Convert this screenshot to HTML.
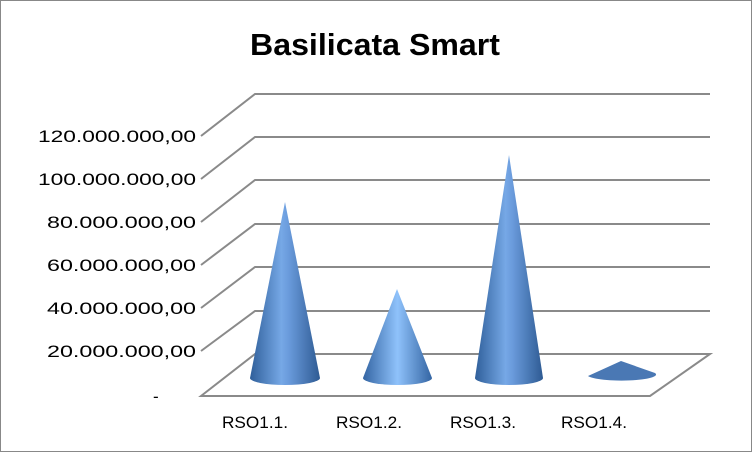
<!DOCTYPE html>
<html><head><style>
body{margin:0;background:#fff}
svg{display:block}
text{font-family:"Liberation Sans",sans-serif}
</style></head><body>
<svg width="752" height="452" viewBox="0 0 752 452">
<defs>
<linearGradient id="g" x1="0" x2="1" y1="0" y2="0">
<stop offset="0" stop-color="#2f5f9a"/>
<stop offset="0.45" stop-color="#76a8e6"/>
<stop offset="0.55" stop-color="#6a9bdc"/>
<stop offset="1" stop-color="#2e5b93"/>
</linearGradient>
<linearGradient id="g2" x1="0" x2="1" y1="0" y2="0">
<stop offset="0" stop-color="#3465a3"/>
<stop offset="0.5" stop-color="#8fc2fb"/>
<stop offset="1" stop-color="#3465a3"/>
</linearGradient>
</defs>
<rect x="0.5" y="0.5" width="751" height="451" fill="#fff" stroke="#888"/>
<text x="250" y="55" font-size="31" font-weight="bold" textLength="250" lengthAdjust="spacingAndGlyphs">Basilicata Smart</text>
<g stroke="#8a8a8a" stroke-width="2" fill="none">
<path d="M201 136L255 94H710"/>
<path d="M201 179L255 137H710"/>
<path d="M201 222L255 180H710"/>
<path d="M201 265L255 224H710"/>
<path d="M201 308L255 267H710"/>
<path d="M201 351L255 311H710"/>
<path d="M201 396L255 354H710L650 396Z"/>
</g>
<g font-size="17" fill="#000">
<text x="38" y="142" textLength="158" lengthAdjust="spacingAndGlyphs">120.000.000,00</text>
<text x="38" y="185" textLength="158" lengthAdjust="spacingAndGlyphs">100.000.000,00</text>
<text x="47" y="228" textLength="149" lengthAdjust="spacingAndGlyphs">80.000.000,00</text>
<text x="47" y="271" textLength="149" lengthAdjust="spacingAndGlyphs">60.000.000,00</text>
<text x="47" y="314" textLength="149" lengthAdjust="spacingAndGlyphs">40.000.000,00</text>
<text x="47" y="357" textLength="149" lengthAdjust="spacingAndGlyphs">20.000.000,00</text>
<text x="153" y="402">-</text>
</g>
<g>
<path d="M250 378L285 202L320 378A35 7 0 0 1 250 378Z" fill="url(#g)"/>
<path d="M363 378L397 289L432 378A34.5 7 0 0 1 363 378Z" fill="url(#g2)"/>
<path d="M475 378L509 155L543 378A34 7 0 0 1 475 378Z" fill="url(#g)"/>
<path d="M588 376L621 361L655 373A34 6 0 0 1 588 376Z" fill="#4a78b4"/>
</g>
<g font-size="17">
<text x="222" y="428" textLength="66" lengthAdjust="spacingAndGlyphs">RSO1.1.</text>
<text x="336" y="428" textLength="66" lengthAdjust="spacingAndGlyphs">RSO1.2.</text>
<text x="450" y="428" textLength="66" lengthAdjust="spacingAndGlyphs">RSO1.3.</text>
<text x="561" y="428" textLength="66" lengthAdjust="spacingAndGlyphs">RSO1.4.</text>
</g>
</svg>
</body></html>
